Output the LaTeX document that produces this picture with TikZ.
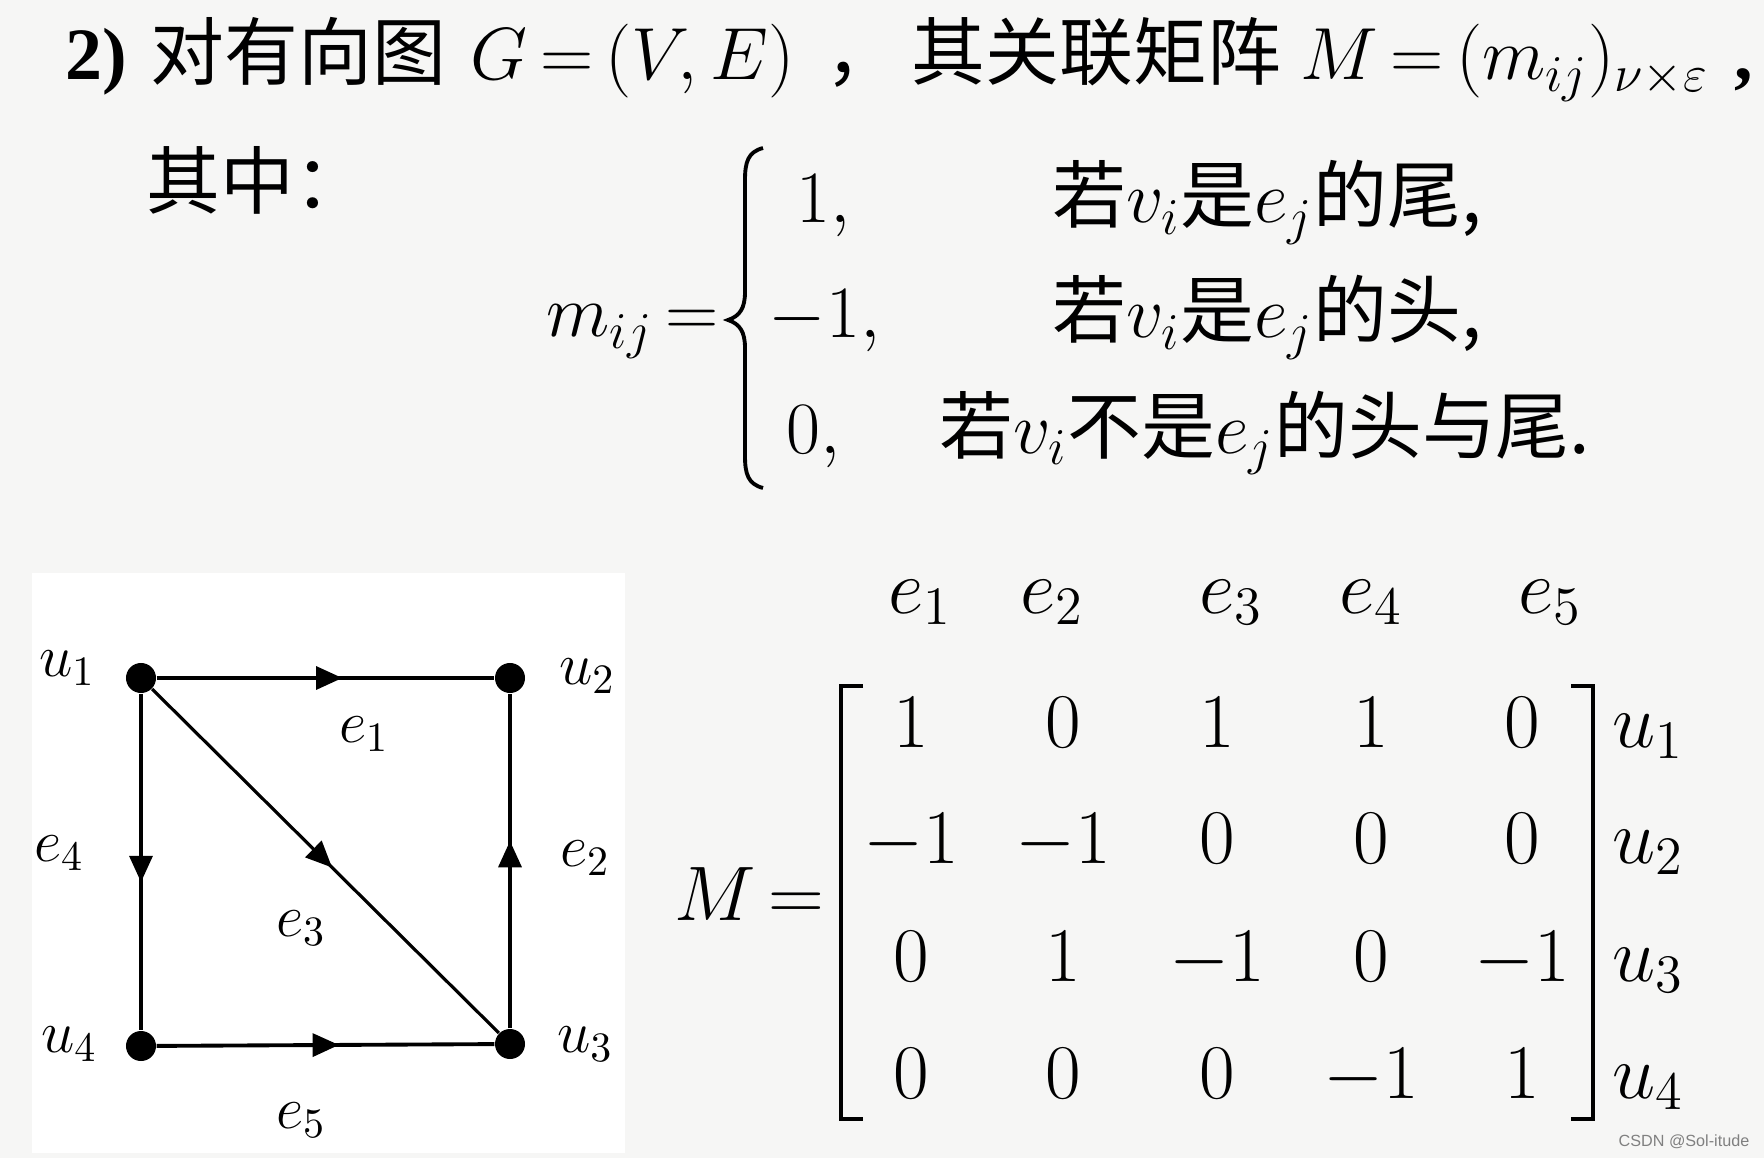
\documentclass[tikz,border=0pt]{standalone}
\usepackage{fix-cm}
\usepackage{fontspec}
\setmainfont{Liberation Serif}
\newfontfamily\cjk{Noto Sans CJK SC}
\newfontfamily\wmfont{Liberation Sans}
\usetikzlibrary{arrows.meta,decorations.markings}
\definecolor{paper}{RGB}{246,246,245}

\begin{document}
\begin{tikzpicture}[x=0.01cm,y=-0.01cm,
  every node/.append style={execute at begin node={\thickmuskip=3mu\medmuskip=2mu}},
  dot/.style={circle,fill=black,inner sep=0pt,minimum size=0.3cm},
  edge/.style={line width=1.1pt},
  midarrow/.style={postaction={decorate},decoration={markings,
    mark=at position #1 with {\arrow{Triangle[length=7.5pt,width=6.5pt]}}}},
  lbl/.style={font=\fontsize{17}{20}\selectfont,inner sep=0pt},
  big/.style={font=\fontsize{21}{25}\selectfont,inner sep=0pt,anchor=base west},
  entry/.style={font=\fontsize{22}{26}\selectfont,inner sep=0pt,anchor=base}]
\useasboundingbox (0,0) rectangle (1764,1158);
\fill[paper] (0,0) rectangle (1764,1158);
\fill[white] (32,573) rectangle (625,1153);

% title line
\node[big] (t1) at (65,80) {\textbf{2)}};
\node[big] (t2) at (150,80) {\cjk 对有向图};
\node[big] (t3) at (470,80) {$G=(V,E)$};
\node[big] (t4) at (825,80) {\cjk \makebox[0.4em][l]{，}};
\node[big] (t5) at (911,80) {\cjk 其关联矩阵};
\node[big] (t6) at (1300,80) {$M=(m_{ij})_{\nu\times\varepsilon}$};
\node[big] (t7) at (1734,80) {\textbf{,}};
\node[big] (t8) at (146,209) {\cjk 其中：};

% definition of m_ij
\node[big] (mij) at (546,337) {$m_{ij}=$};
\draw[line width=1.1pt] (763,148) .. controls (748,152) and (745,162) .. (745,180)
  -- (745,292) .. controls (745,308) and (740,316) .. (728,320)
  .. controls (740,324) and (745,332) .. (745,348)
  -- (745,456) .. controls (745,474) and (748,484) .. (763,488);
\node[big] (c1) at (796,223) {$1,$};
\node[big] (c2) at (768,338) {$-1,$};
\node[big] (c3) at (786,453) {$0,$};
\node[big] (d1) at (1052,223) {\cjk 若$v_i$是$e_j$的尾,};
\node[big] (d2) at (1052,338) {\cjk 若$v_i$是$e_j$的头,};
\node[big] (d3) at (939,453) {\cjk 若$v_i$不是$e_j$的头与尾.};

% directed graph
\node (u1) at (141,678) [dot]{};
\node (u2) at (510,678) [dot]{};
\node (u3) at (510,1044) [dot]{};
\node (u4) at (141,1046) [dot]{};

\draw[edge,midarrow=0.55] (u1)--(u2);
\draw[edge,midarrow=0.56] (u3)--(u2);
\draw[line width=0.9pt,midarrow=0.52] (u1)--(u3);
\draw[edge,midarrow=0.56] (u1)--(u4);
\draw[edge,midarrow=0.54] (u4)--(u3);

\node[lbl] (lu1) at (67,668) {$u_1$};
\node[lbl] (lu2) at (587,676) {$u_2$};
\node[lbl] (lu3) at (585,1044) {$u_3$};
\node[lbl] (lu4) at (69,1044) {$u_4$};
\node[lbl] (le1) at (364,734) {$e_1$};
\node[lbl] (le2) at (585,858) {$e_2$};
\node[lbl] (le3) at (301,928) {$e_3$};
\node[lbl] (le4) at (59,853) {$e_4$};
\node[lbl] (le5) at (301,1120) {$e_5$};

% incidence matrix
\node[entry] (h1) at (920,613) {$e_1$};
\node[entry] (h2) at (1052,613) {$e_2$};
\node[entry] (h3) at (1231,613) {$e_3$};
\node[entry] (h4) at (1371,613) {$e_4$};
\node[entry] (h5) at (1550,613) {$e_5$};

\node[entry,anchor=base west] (M) at (674,920) {$M=$};

\node[entry] (a11) at (911,747) {$1$};
\node[entry] (a12) at (1063,747) {$0$};
\node[entry] (a13) at (1217,747) {$1$};
\node[entry] (a14) at (1371,747) {$1$};
\node[entry] (a15) at (1522,747) {$0$};
\node[entry] (a21) at (911,863) {$-1$};
\node[entry] (a22) at (1063,863) {$-1$};
\node[entry] (a23) at (1217,863) {$0$};
\node[entry] (a24) at (1371,863) {$0$};
\node[entry] (a25) at (1522,863) {$0$};
\node[entry] (a31) at (911,981) {$0$};
\node[entry] (a32) at (1063,981) {$1$};
\node[entry] (a33) at (1217,981) {$-1$};
\node[entry] (a34) at (1371,981) {$0$};
\node[entry] (a35) at (1522,981) {$-1$};
\node[entry] (a41) at (911,1098) {$0$};
\node[entry] (a42) at (1063,1098) {$0$};
\node[entry] (a43) at (1217,1098) {$0$};
\node[entry] (a44) at (1371,1098) {$-1$};
\node[entry] (a45) at (1522,1098) {$1$};

\draw[line width=1.2pt] (863,686)--(841,686)--(841,1119)--(863,1119);
\draw[line width=1.2pt] (1571,686)--(1593,686)--(1593,1119)--(1571,1119);

\node[entry,anchor=base west] (r1) at (1612,747) {$u_1$};
\node[entry,anchor=base west] (r2) at (1612,863) {$u_2$};
\node[entry,anchor=base west] (r3) at (1612,981) {$u_3$};
\node[entry,anchor=base west] (r4) at (1612,1098) {$u_4$};

\node[anchor=east,inner sep=0pt,text=black!50,font=\wmfont\fontsize{4.6}{5}\selectfont] (wm) at (1750,1142) {CSDN @Sol-itude};
\end{tikzpicture}
\end{document}
